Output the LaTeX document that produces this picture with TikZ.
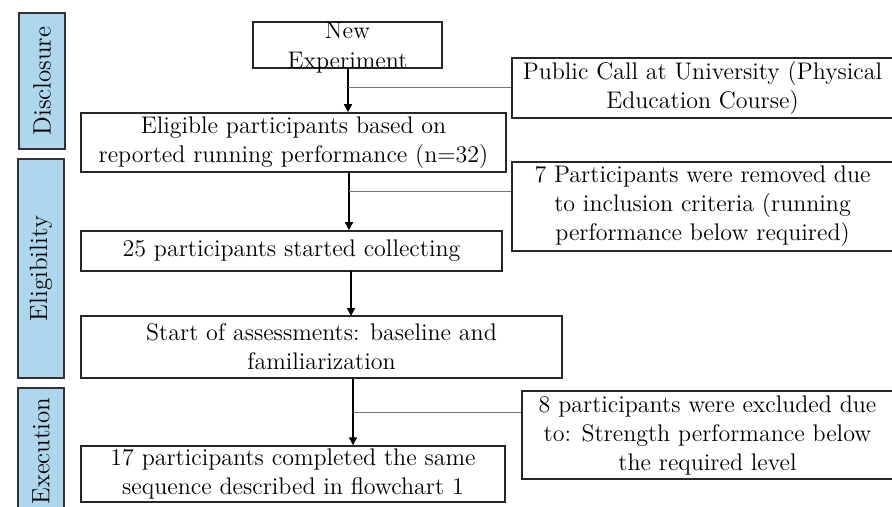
\documentclass[tikz,border=0pt]{standalone}
\usepackage{tikz}
\usetikzlibrary{arrows, arrows.meta}
\usepackage{amsmath}
\definecolor{sideblue}{RGB}{174,214,236}

\begin{document}
\begin{tikzpicture}[x=0.5pt, y=-0.5pt]
\tikzstyle{every node}+=[inner sep=0pt, font=\fontsize{12}{14.5}\selectfont]
\tikzstyle{stepbox}=[draw=black!85, line width=0.75pt, fill=white, align=center]
\tikzstyle{phasebox}=[draw=black!80, line width=0.75pt, fill=sideblue, rotate=90, minimum height=23pt,
  font=\fontsize{12.5}{15}\selectfont]
\tikzstyle{flow}=[black, line width=0.7pt, -{Triangle[length=4pt,width=4pt]}]
\tikzstyle{branch}=[black!55, line width=0.5pt]
\clip (0,0) rectangle (892,507);
% phases
\node [phasebox, minimum width=68pt] (disclosure) at (42,81) {Disclosure};
\node [phasebox, minimum width=109.5pt] (eligibility) at (41,268.5) {Eligibility};
\node [phasebox, minimum width=63pt] (execution) at (41,451) {Execution};
% main steps
\node [stepbox, minimum width=94.5pt, minimum height=23pt,
  label={[align=center, yshift=-1.5pt, font=\fontsize{12}{15}\selectfont]center:New\\Experiment}] (newexp) at (347.5,45) {};
\node [stepbox, minimum width=212.5pt, minimum height=29.5pt] (eligible) at (293.5,142.5)
  {Eligible participants based on\\reported running performance (n=32)};
\node [stepbox, minimum width=210.5pt, minimum height=20pt] (started) at (291.5,251)
  {25 participants started collecting};
\node [stepbox, minimum width=240.5pt, minimum height=31pt] (assess) at (321.5,347)
  {Start of assessments: baseline and\\familiarization};
\node [stepbox, minimum width=212pt, minimum height=28pt] (completed) at (293,474)
  {17 participants completed the same\\sequence described in flowchart 1};
% side boxes
\node [stepbox, minimum width=190.5pt, minimum height=30pt] (public) at (702.5,88)
  {Public Call at University (Physical\\Education Course)};
\node [stepbox, minimum width=190.5pt, minimum height=44.5pt] (removed) at (702.5,206.5)
  {7 Participants were removed due\\to inclusion criteria (running\\performance below required)};
\node [stepbox, minimum width=185.5pt, minimum height=44pt] (excluded) at (707.5,435)
  {8 participants were excluded due\\to: Strength performance below\\the required level};
% junctions
\coordinate (j1) at (348,88);
\coordinate (j2) at (349,192);
\coordinate (j3) at (353,412);
% connectors
\draw [flow] (j1 |- newexp.south) -- (j1 |- eligible.north);
\draw [branch] (j1) -- (public.west);
\draw [flow] (j2 |- eligible.south) -- (j2 |- started.north);
\draw [branch] (j2) -- (j2 -| removed.west);
\draw [flow] (351,271) -- (351,316);
\draw [flow] (j3 |- assess.south) -- (j3 |- completed.north);
\draw [branch] (j3) -- (j3 -| excluded.west);
\end{tikzpicture}
\end{document}
